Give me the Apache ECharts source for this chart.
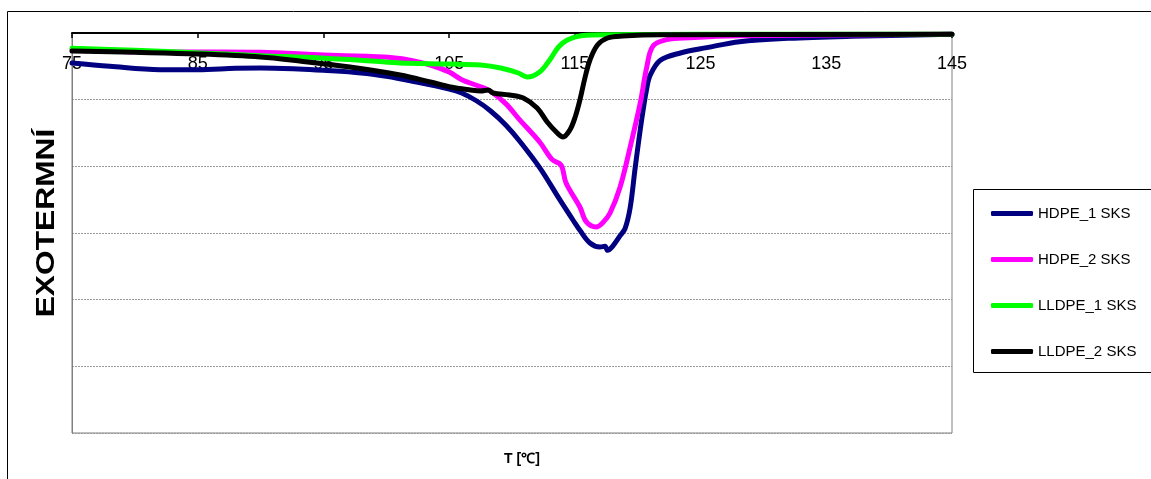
<!DOCTYPE html>
<html>
<head>
<meta charset="utf-8">
<script src="https://cdn.jsdelivr.net/npm/echarts@6/dist/echarts.min.js"></script>
<style>
  html, body { margin: 0; padding: 0; background: #fff; }
  #chart { width: 1151px; height: 479px; }
</style>
</head>
<body>
<div id="chart"></div>
<script>
// DSC cooling curves: temperature [°C] vs. heat flow (exothermic downward)
const seriesNames = ['HDPE_1 SKS', 'HDPE_2 SKS', 'LLDPE_1 SKS', 'LLDPE_2 SKS'];
const seriesColors = ['#000080', '#FF00FF', '#00FF00', '#000000'];

const xTicks = [75, 85, 95, 105, 115, 125, 135, 145];

const hdpe1 = [
  [75, -0.45], [78, -0.5], [82, -0.55], [85, -0.55], [88, -0.53], [90, -0.525],
  [93, -0.54], [95, -0.56], [98, -0.6], [100, -0.65], [102, -0.72], [105, -0.84],
  [106, -0.9], [107.2, -1.02], [108.3, -1.17], [109.5, -1.38], [110.6, -1.62],
  [112.2, -2.02], [113.8, -2.5], [114.9, -2.82], [115.4, -2.96], [116.2, -3.15],
  [117.0, -3.21], [117.4, -3.2], [117.6, -3.26], [118.0, -3.2], [118.6, -3.04],
  [119.0, -2.93], [119.4, -2.62], [119.8, -2.02], [120.3, -1.32], [120.7, -0.85],
  [121.0, -0.63], [121.8, -0.41], [123.4, -0.3], [125.5, -0.22], [128.1, -0.13],
  [132, -0.08], [137, -0.05], [145, -0.02]
];

const hdpe2 = [
  [75, -0.25], [80, -0.28], [85, -0.285], [90, -0.29], [95, -0.33], [98.5, -0.35],
  [100.5, -0.37], [102, -0.41], [103.5, -0.48], [105, -0.585], [106, -0.7], [107.4, -0.8],
  [108.25, -0.87], [109.5, -1.06], [110.6, -1.3], [112.2, -1.635], [113.2, -1.9],
  [113.9, -1.98], [114.3, -2.25], [115.4, -2.61], [115.9, -2.83], [116.7, -2.91],
  [117.2, -2.85], [117.8, -2.7], [118.6, -2.31], [119.4, -1.71], [120.2, -1.05],
  [120.7, -0.53], [121.2, -0.2], [122.3, -0.1], [124.1, -0.07], [128, -0.04], [145, -0.02]
];

const lldpe1 = [
  [75, -0.23], [80, -0.26], [85.2, -0.3], [90, -0.34], [94.8, -0.375], [98.8, -0.42],
  [101.1, -0.45], [105, -0.465], [107.5, -0.48], [109.1, -0.525], [110.5, -0.6],
  [111.2, -0.66], [112.2, -0.585], [113.0, -0.405], [113.7, -0.21], [114.4, -0.105],
  [115.5, -0.04], [117.8, -0.025], [125, -0.02], [145, -0.02]
];

const lldpe2 = [
  [75, -0.27], [80, -0.29], [85, -0.315], [90, -0.36], [93.1, -0.42], [97.1, -0.51],
  [101.1, -0.63], [103.5, -0.735], [105.1, -0.81], [106.7, -0.855], [107.5, -0.87],
  [108.1, -0.855], [108.5, -0.9], [109.8, -0.93], [110.9, -0.975], [112.0, -1.125],
  [112.8, -1.335], [113.6, -1.5], [114.06, -1.56], [114.6, -1.455], [115.0, -1.275],
  [115.4, -1.005], [115.8, -0.675], [116.2, -0.405], [116.8, -0.18], [117.6, -0.075],
  [118.8, -0.045], [121.8, -0.025], [145, -0.02]
];

const seriesData = [hdpe1, hdpe2, lldpe1, lldpe2];

const FONT = 'Liberation Sans, Arial, Helvetica, sans-serif';
const legendRows = [206, 252, 298, 344];

const chart = echarts.init(document.getElementById('chart'), null, { renderer: 'canvas' });

chart.setOption({
  backgroundColor: '#ffffff',
  animation: false,
  grid: {
    left: 72, top: 33, right: 199, bottom: 46,
    show: true, borderColor: '#808080', borderWidth: 1, backgroundColor: 'transparent'
  },
  xAxis: {
    type: 'value',
    position: 'top',
    min: xTicks[0],
    max: xTicks[xTicks.length - 1],
    interval: 10,
    axisLine: { show: true, lineStyle: { color: '#000', width: 2 } },
    axisTick: { show: true, inside: true, length: 5, lineStyle: { color: '#000', width: 1.5 } },
    axisLabel: {
      inside: true, margin: 22, color: '#000', fontSize: 18, fontFamily: FONT,
      showMinLabel: true, showMaxLabel: true
    },
    splitLine: { show: false }
  },
  yAxis: {
    type: 'value',
    min: -6, max: 0, interval: 1,
    axisLine: { show: true, lineStyle: { color: '#808080', width: 1 } },
    axisTick: { show: false },
    axisLabel: { show: false },
    splitLine: { show: true, lineStyle: { color: '#9a9a9a', width: 1, type: [2, 1] } }
  },
  legend: seriesNames.map((n, i) => ({
    data: [n],
    left: 991,
    top: legendRows[i],
    orient: 'vertical',
    padding: 0,
    itemGap: 0,
    itemWidth: 42,
    itemHeight: 5,
    icon: 'roundRect',
    selectedMode: false,
    textStyle: { color: '#000', fontSize: 15, fontFamily: FONT }
  })),
  graphic: [
    {
      type: 'rect', silent: true, z: -1,
      shape: { x: 7.5, y: 11.5, width: 1300, height: 600 },
      style: { fill: 'transparent', stroke: '#000', lineWidth: 1 }
    },
    {
      type: 'rect', silent: true,
      shape: { x: 973.5, y: 189.5, width: 300, height: 183 },
      style: { fill: '#fff', stroke: '#000', lineWidth: 1 },
      z: 0
    },
    {
      type: 'text', silent: true,
      x: 47, y: 223,
      rotation: Math.PI / 2,
      scaleX: 1.22,
      style: {
        text: 'EXOTERMNÍ', fill: '#000', font: 'bold 26px ' + FONT,
        align: 'center', verticalAlign: 'middle'
      }
    },
    {
      type: 'text', silent: true,
      x: 522, y: 459,
      style: {
        text: 'T [℃]', fill: '#000', font: 'bold 14px ' + FONT,
        align: 'center', verticalAlign: 'middle'
      }
    }
  ],
  series: seriesNames.map((n, i) => ({
    name: n,
    type: 'line',
    data: seriesData[i],
    color: seriesColors[i],
    showSymbol: false,
    symbol: 'none',
    smooth: 0.35,
    lineStyle: { width: 5, color: seriesColors[i], cap: 'round', join: 'round' },
    z: 2 + i
  }))
});
</script>
</body>
</html>
